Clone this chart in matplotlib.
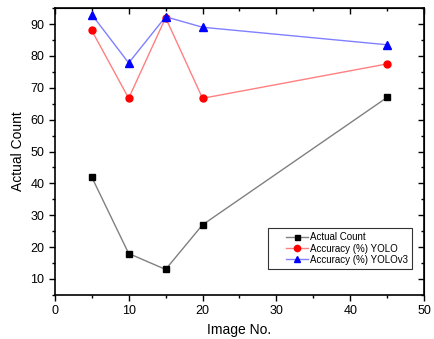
import matplotlib
matplotlib.use("Agg")
import numpy as np
import matplotlib.pyplot as plt
from matplotlib.ticker import MultipleLocator
from matplotlib.legend_handler import HandlerLine2D

plt.rcParams["font.family"] = ["Liberation Sans", "DejaVu Sans"]

image_no = [5, 10, 15, 20, 45]
actual_count = [42, 18, 13, 27, 67]
acc_yolo = [88, 66.7, 92, 66.7, 77.5]
acc_yolov3 = [93, 77.8, 92.3, 89, 83.5]


class RightLine(HandlerLine2D):
    # draw the legend line only in the right part of the handle box
    def get_xdata(self, legend, xdescent, ydescent, width, height, fontsize):
        x0 = -xdescent + width * 0.4
        x1 = -xdescent + width
        return np.array([x0, x1]), np.array([(x0 + x1) / 2])


fig = plt.figure(figsize=(4.35, 3.39), dpi=100)
ax = fig.add_axes([0.126, 0.13, 0.849, 0.846])

ax.plot(image_no, actual_count, color="#808080", lw=1, marker="s", ms=4,
        mfc="black", mec="black", label="Actual Count")
ax.plot(image_no, acc_yolo, color="#ff8080", lw=1, marker="o", ms=5,
        mfc="red", mec="red", label="Accuracy (%) YOLO")
ax.plot(image_no, acc_yolov3, color="#8080ff", lw=1, marker="^", ms=5.5,
        mfc="blue", mec="blue", label="Accuracy (%) YOLOv3")

ax.set_xlim(0, 50)
ax.set_ylim(5, 95)
ax.xaxis.set_major_locator(MultipleLocator(10))
ax.xaxis.set_minor_locator(MultipleLocator(5))
ax.yaxis.set_major_locator(MultipleLocator(10))
ax.yaxis.set_minor_locator(MultipleLocator(5))
ax.tick_params(axis="both", which="both", direction="out", labelsize=9, width=1)
ax.tick_params(which="major", length=4)
ax.tick_params(which="minor", length=2.5)

# mirrored ticks on top and right, inward, no labels
top = ax.secondary_xaxis("top")
top.xaxis.set_major_locator(MultipleLocator(10))
top.xaxis.set_minor_locator(MultipleLocator(5))
top.tick_params(which="both", direction="in", labeltop=False, width=1)
top.tick_params(which="major", length=4)
top.tick_params(which="minor", length=2.5)
right = ax.secondary_yaxis("right")
right.yaxis.set_major_locator(MultipleLocator(10))
right.yaxis.set_minor_locator(MultipleLocator(5))
right.tick_params(which="both", direction="in", labelright=False, width=1)
right.tick_params(which="major", length=4)
right.tick_params(which="minor", length=2.5)

for s in ax.spines.values():
    s.set_linewidth(1.2)

ax.set_xlabel("Image No.", fontsize=10)
ax.set_ylabel("Actual Count", fontsize=10)

leg = ax.legend(loc="lower right", bbox_to_anchor=(0.98, 0.073), fontsize=7,
                frameon=True, fancybox=False, edgecolor="black",
                handlelength=3.7, borderpad=0.45, labelspacing=0.12,
                handletextpad=0.15, markerscale=0.9,
                handler_map={plt.Line2D: RightLine()})
leg.get_frame().set_linewidth(0.8)

fig.savefig("out.png", dpi=100)
